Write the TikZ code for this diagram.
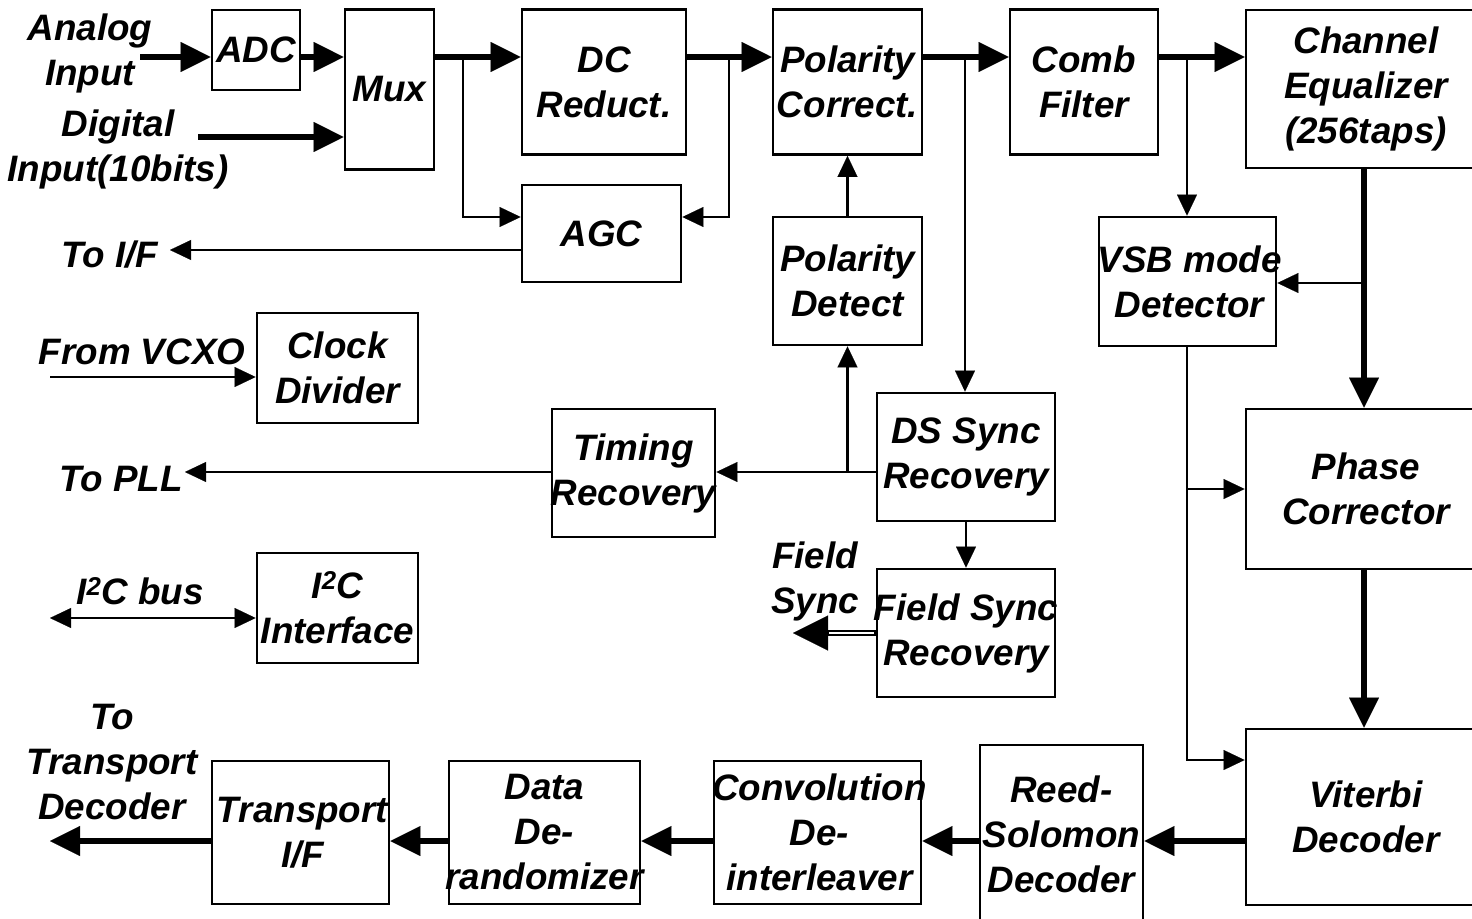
\documentclass[tikz,border=0pt]{standalone}
\usepackage{fontspec}
\setmainfont{Liberation Sans}
\usetikzlibrary{arrows.meta}
\begin{document}
\begin{tikzpicture}[x=1pt,y=-1pt,
  txt/.style={font=\fontsize{36.8}{45}\selectfont\bfseries\itshape},
  box/.style={draw,line width=2.8pt,inner sep=0pt},
  lbl/.style={txt,inner sep=0pt,align=center},
  thinarr/.style={line width=2.6pt,-{Triangle[length=21pt,width=20pt,line width=0.1pt]}},
  bothway/.style={line width=2.6pt,{Triangle[length=21pt,width=20pt,line width=0.1pt]}-{Triangle[length=21pt,width=20pt,line width=0.1pt]}},
  thickarr/.style={line width=6pt,-{Triangle[length=30pt,width=30pt,line width=0.1pt]}},
  fsarr/.style={line width=5.5pt,-{Triangle[length=35pt,width=35pt,line width=0.1pt]}}
]
\useasboundingbox (0,0) rectangle (1472,918);
\fill[white] (0,0) rectangle (1472,918);

% boxes (text set as centred labels so that it never widens a box)
\node[box,minimum width=88,minimum height=80,label={[lbl]center:ADC}] (adc) at (256,50) {};
\node[box,minimum width=89,minimum height=160,label={[lbl]center:Mux}] (mux) at (389.5,89.5) {};
\node[box,minimum width=164,minimum height=145,label={[lbl]center:{DC\\Reduct.}}] (dcr) at (604,82) {};
\node[box,minimum width=159,minimum height=97,label={[lbl]center:AGC}] (agc) at (601.5,233.5) {};
\node[box,minimum width=149,minimum height=145,label={[lbl]center:{Polarity\\Correct.}}] (pcor) at (847.5,82) {};
\node[box,minimum width=149,minimum height=128,label={[lbl]center:{Polarity\\Detect}}] (pdet) at (847.5,281) {};
\node[box,minimum width=148,minimum height=145,label={[lbl]center:{Comb\\Filter}}] (comb) at (1084,82) {};
\node[box,minimum width=240,minimum height=158,label={[lbl]center:{Channel\\Equalizer\\(256taps)}}] (cheq) at (1366,89) {};
\node[box,minimum width=177,minimum height=129,label={[lbl,xshift=2pt]center:{VSB mode\\Detector}}] (vsb) at (1187.5,281.5) {};
\node[box,minimum width=161,minimum height=110,label={[lbl]center:{Clock\\Divider}}] (clk) at (337.5,368) {};
\node[box,minimum width=161,minimum height=110,label={[lbl]center:{I\textsuperscript{2}C\\Interface}}] (i2c) at (337.5,608) {};
\node[box,minimum width=163,minimum height=128,label={[lbl]center:{Timing\\Recovery}}] (tim) at (633.5,473) {};
\node[box,minimum width=178,minimum height=128,label={[lbl]center:{DS Sync\\Recovery}}] (dss) at (966,457) {};
\node[box,minimum width=178,minimum height=128,label={[lbl]center:{Field Sync\\Recovery}}] (fss) at (966,633) {};
\node[box,minimum width=240,minimum height=160,label={[lbl]center:{Phase\\Corrector}}] (phc) at (1366,489) {};
\node[box,minimum width=240,minimum height=176,label={[lbl]center:{Viterbi\\Decoder}}] (vit) at (1366,817) {};
\node[box,minimum width=163,minimum height=185,label={[lbl,yshift=3.5pt]center:{Reed-\\Solomon\\Decoder}}] (rs) at (1061.5,837.5) {};
\node[box,minimum width=207,minimum height=143,label={[lbl,xshift=2pt]center:{Convolution\\De-\\interleaver}}] (conv) at (817.5,832.5) {};
\node[box,minimum width=191,minimum height=143,label={[lbl]center:{Data\\De-\\randomizer}}] (ddr) at (544.5,832.5) {};
\node[box,minimum width=177,minimum height=143,label={[lbl,xshift=2pt]center:{Transport\\I/F}}] (tif) at (300.5,832.5) {};

% labels
\node[lbl] (lain) at (90,53) {Analog\\Input};
\node[lbl] (ldin) at (118,149) {Digital\\Input(10bits)};
\node[lbl] (lif) at (110,255) {To I/F};
\node[lbl] (lvcxo) at (142,352) {From VCXO};
\node[lbl] (lpll) at (121,479) {To PLL};
\node[lbl] (li2c) at (140,591) {I\textsuperscript{2}C bus};
\node[lbl] (lfs) at (815,581) {Field\\Sync};
\node[lbl] (ltd) at (112,762) {To\\Transport\\Decoder};

% coordinates
\coordinate (ain) at (140,57);
\coordinate (din) at (198,137);
\coordinate (b1) at (463,57);
\coordinate (b1d) at (463,217);
\coordinate (b2) at (729,57);
\coordinate (b2d) at (729,217);
\coordinate (b3) at (965,57);
\coordinate (b4) at (1187,57);
\coordinate (b5) at (1364,283);
\coordinate (b6) at (1187,489);
\coordinate (b6d) at (1187,760);
\coordinate (b7) at (847.5,472);
\coordinate (toif) at (170,250);
\coordinate (topll) at (185,472);
\coordinate (vcxo) at (50,377);
\coordinate (i2cb) at (50,618);
\coordinate (fsout) at (793,633);
\coordinate (tdout) at (50,841);

% main path
\draw[thickarr] (ain) -- (ain -| adc.west);
\draw[thickarr] (adc.east |- ain) -- (mux.west |- ain);
\draw[thickarr] (din) -- (din -| mux.west);
\draw[thickarr] (mux.east |- ain) -- (dcr.west |- ain);
\draw[thickarr] (dcr.east |- ain) -- (pcor.west |- ain);
\draw[thickarr] (pcor.east |- ain) -- (comb.west |- ain);
\draw[thickarr] (comb.east |- ain) -- (cheq.west |- ain);
\draw[thickarr] (b5 |- cheq.south) -- (b5 |- phc.north);
\draw[thickarr] (b5 |- phc.south) -- (b5 |- vit.north);
\draw[thickarr] (vit.west |- tdout) -- (rs.east |- tdout);
\draw[thickarr] (rs.west |- tdout) -- (conv.east |- tdout);
\draw[thickarr] (conv.west |- tdout) -- (ddr.east |- tdout);
\draw[thickarr] (ddr.west |- tdout) -- (tif.east |- tdout);
\draw[thickarr] (tif.west |- tdout) -- (tdout);

% thin connectors
\draw[thinarr] (b1) -- (b1d) -- (b1d -| agc.west);
\draw[thinarr] (b2) -- (b2d) -- (b2d -| agc.east);
\draw[thinarr] (toif -| agc.west) -- (toif);
\draw[thinarr] (b3) -- (b3 |- dss.north);
\draw[thinarr] (b4) -- (b4 |- vsb.north);
\draw[thinarr] (b5) -- (b5 -| vsb.east);
\draw[thinarr] (b6 |- vsb.south) -- (b6d) -- (b6d -| vit.west);
\draw[thinarr] (b6) -- (b6 -| phc.west);
\draw[thinarr] (dss.west |- b7) -- (tim.east |- b7);
\draw[thinarr] (b7) -- (b7 |- pdet.south);
\draw[thinarr] (pdet.north) -- (pcor.south);
\draw[thinarr] (tim.west |- topll) -- (topll);
\draw[thinarr] (vcxo) -- (vcxo -| clk.west);
\draw[bothway] (i2cb) -- (i2cb -| i2c.west);
\draw[thinarr] (dss.south) -- (fss.north);

% field sync double arrow
\draw[fsarr] (fss.west |- fsout) -- (fsout);
\draw[white,line width=2pt] ([xshift=-2pt]fss.west |- fsout) -- ([xshift=36pt]fsout);
\end{tikzpicture}
\end{document}
